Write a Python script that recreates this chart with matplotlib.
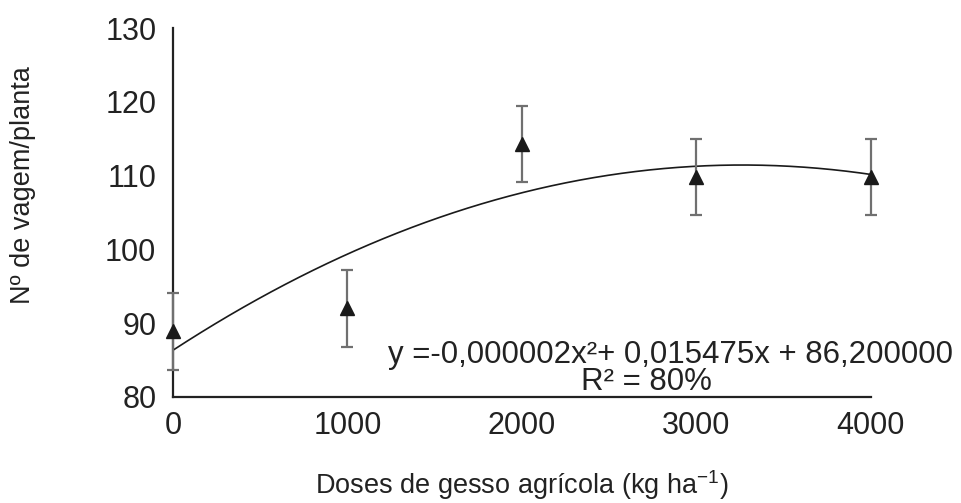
import numpy as np
import matplotlib
matplotlib.use("Agg")
import matplotlib.pyplot as plt

plt.rcParams["font.family"] = ["Liberation Sans", "DejaVu Sans"]
plt.rcParams["mathtext.default"] = "regular"

# data
doses = [0, 1000, 2000, 3000, 4000]
vagens = [88.9, 92.0, 114.3, 109.8, 109.8]
erro = [5.2, 5.2, 5.2, 5.2, 5.2]
y_ticks = [80, 90, 100, 110, 120, 130]
x_ticks = [0, 1000, 2000, 3000, 4000]

equacao = "y =-0,000002x²+ 0,015475x + 86,200000"
r2 = "R² = 80%"

fig = plt.figure(figsize=(9.61, 5.03), dpi=100)
ax = fig.add_axes([0.180, 0.211, 0.726, 0.733])

# quadratic trend line fitted on the means
coef = np.polyfit(doses, vagens, 2)
xs = np.linspace(min(doses), max(doses), 200)
ax.plot(xs, np.polyval(coef, xs), color="#1a1a1a", linewidth=1.2, zorder=2)

ax.errorbar(doses, vagens, yerr=erro, fmt="none", ecolor="#707070",
            elinewidth=1.6, capsize=4, capthick=1.6, clip_on=False, zorder=3)
ax.plot(doses, vagens, "^", color="#1a1a1a", markersize=10, clip_on=False,
        zorder=4)

ax.set_xlim(0, 4000)
ax.set_ylim(80, 130)
ax.set_xticks(x_ticks)
ax.set_yticks(y_ticks)
ax.tick_params(length=0, labelsize=22, colors="#222222", pad=12)
ax.tick_params(axis="x", pad=10)
for side in ("top", "right"):
    ax.spines[side].set_visible(False)
for side in ("left", "bottom"):
    ax.spines[side].set_color("#222222")
    ax.spines[side].set_linewidth(1.6)

ax.set_xlabel("Doses de gesso agrícola (kg ha$^{-1}$)", fontsize=19.5,
              color="#222222", labelpad=20)
ax.set_ylabel("Nº de vagem/planta", fontsize=19.5, color="#222222")
ax.yaxis.set_label_coords(-0.197, 0.575)

ax.text(2854, 85.7, equacao, ha="center", va="center", fontsize=22.5,
        color="#222222")
ax.text(2716, 82.0, r2, ha="center", va="center", fontsize=22.5,
        color="#222222")

fig.savefig("out.png", dpi=100)
